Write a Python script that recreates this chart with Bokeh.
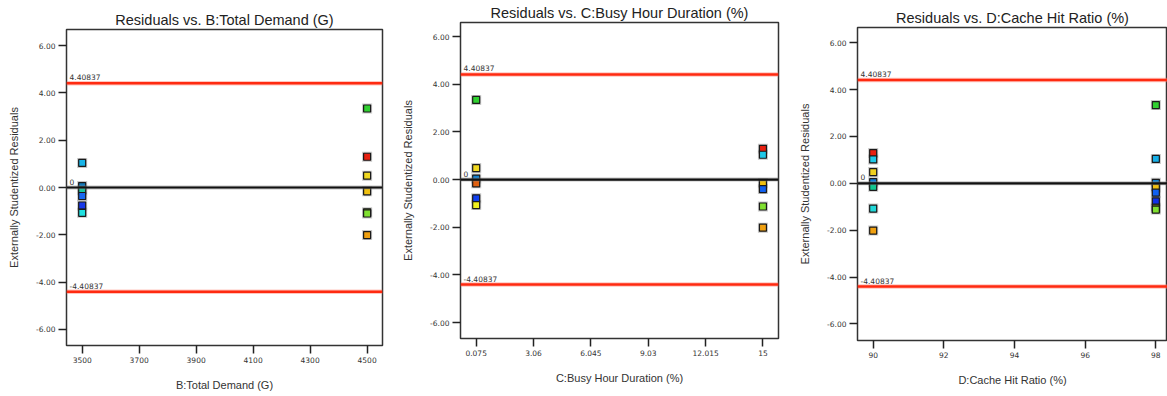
from bokeh.plotting import figure
from bokeh.layouts import row
from bokeh.models import Range1d, FixedTicker, NumeralTickFormatter, Label, Span, ColumnDataSource
from bokeh.embed import file_html
from bokeh.resources import INLINE

# ---------------- data ----------------
LIMIT = 4.40837
Y_TICKS = [-6, -4, -2, 0, 2, 4, 6]

# Panel B: Total Demand
b_levels = [3500, 3500, 3500, 3500, 3500, 3500, 4500, 4500, 4500, 4500, 4500, 4500, 4500]
b_resid = [1.04, 0.06, -0.12, -0.36, -0.76, -1.07, 3.34, 1.30, 0.50, -0.16, -1.05, -1.10, -2.01]
b_colors = ["#18b4e8", "#1478b8", "#18c8a0", "#1868f0", "#1838e8", "#20e0e0",
            "#30d030", "#e82010", "#f0d820", "#f0c010", "#5a8020", "#80e030", "#f0a010"]
b_ticks = [3500, 3700, 3900, 4100, 4300, 4500]
b_tick_labels = ["3500", "3700", "3900", "4100", "4300", "4500"]

# Panel C: Busy Hour Duration
c_levels = [0.075, 0.075, 0.075, 0.075, 0.075, 0.075, 15, 15, 15, 15, 15, 15]
c_resid = [3.34, 0.48, 0.04, -0.16, -0.79, -1.07, 1.29, 1.04, -0.16, -0.40, -1.13, -2.02]
c_colors = ["#30d030", "#f0d820", "#1080d0", "#e06010", "#1040f0", "#f0f020",
            "#e82010", "#20c8e8", "#f0c010", "#1060f0", "#80e030", "#f0a010"]
c_ticks = [0.075, 3.06, 6.045, 9.03, 12.015, 15]
c_tick_labels = ["0.075", "3.06", "6.045", "9.03", "12.015", "15"]

# Panel D: Cache Hit Ratio
d_levels = [90, 90, 90, 90, 90, 90, 90, 98, 98, 98, 98, 98, 98, 98, 98]
d_resid = [1.29, 1.02, 0.48, 0.05, -0.15, -1.08, -2.02,
           3.34, 1.04, 0.02, -0.18, -0.40, -0.77, -1.04, -1.12]
d_colors = ["#e82010", "#20c8e8", "#f0d020", "#1080d8", "#10c890", "#20d8d8", "#f0a010",
            "#30d030", "#18b0e8", "#1080d0", "#f0c010", "#1060f0", "#1030e8", "#708020", "#80e030"]
d_ticks = [90, 92, 94, 96, 98]
d_tick_labels = ["90", "92", "94", "96", "98"]


def panel(title, xlabel, xs, ys, colors, xticks, xlabels, xr, yr, width, height, top_margin, bl, br):
    p = figure(width=width, height=height, output_backend="svg", toolbar_location=None,
               x_range=Range1d(*xr), y_range=Range1d(*yr),
               min_border_left=bl, min_border_right=br, min_border_top=22, min_border_bottom=51,
               margin=(top_margin, 0, 0, 0))
    p.background_fill_color = "white"
    p.border_fill_color = "white"
    p.outline_line_color = "#333333"
    p.outline_line_width = 1.5
    p.xgrid.visible = False
    p.ygrid.visible = False

    p.title.text = title
    p.title.align = "center"
    p.title.text_font = "Liberation Sans"
    p.title.text_font_size = "14.5px"
    p.title.text_font_style = "normal"
    p.title.text_color = "#222222"
    p.title.standoff = 3

    for ax in (p.xaxis[0], p.yaxis[0]):
        ax.axis_line_color = None
        ax.major_tick_in = 0
        ax.major_tick_out = 8
        ax.major_tick_line_color = "#222222"
        ax.major_tick_line_width = 1.5
        ax.minor_tick_line_color = None
        ax.major_label_text_font = "DejaVu Sans"
        ax.major_label_text_font_size = "7.5px"
        ax.major_label_text_color = "#333333"
        ax.major_label_standoff = 3
        ax.axis_label_text_font = "Liberation Sans"
        ax.axis_label_text_font_size = "11px"
        ax.axis_label_text_font_style = "normal"
        ax.axis_label_text_color = "#333333"
        ax.axis_label_standoff = 13

    p.yaxis[0].ticker = FixedTicker(ticks=Y_TICKS)
    p.yaxis[0].formatter = NumeralTickFormatter(format="0.00")
    p.yaxis[0].axis_label = "Externally Studentized Residuals"
    p.xaxis[0].ticker = FixedTicker(ticks=xticks)
    p.xaxis[0].major_label_overrides = {float(t): l for t, l in zip(xticks, xlabels)}
    p.xaxis[0].axis_label = xlabel

    # limit lines
    for loc in (LIMIT, -LIMIT):
        p.add_layout(Span(location=loc, dimension="width", line_color="#ff8070",
                          line_width=4.5, line_alpha=0.45))
        p.add_layout(Span(location=loc, dimension="width", line_color="#ff2a10",
                          line_width=2.5))
    p.add_layout(Span(location=0, dimension="width", line_color="#888888",
                      line_width=4, line_alpha=0.5))
    p.add_layout(Span(location=0, dimension="width", line_color="#111111",
                      line_width=2.2))

    for txt, loc in (("4.40837", LIMIT), ("-4.40837", -LIMIT), ("0", 0)):
        p.add_layout(Label(x=xr[0], y=loc, x_offset=3, y_offset=3, text=txt,
                           text_font="DejaVu Sans", text_font_size="7.5px",
                           text_color="#333333", text_baseline="bottom"))

    src = ColumnDataSource(dict(x=xs, y=ys, c=colors))
    p.scatter("x", "y", source=src, marker="square", size=10, fill_color="#9a9a9a",
              fill_alpha=0.55, line_color=None)
    p.scatter("x", "y", source=src, marker="square", size=7, fill_color="c",
              line_color="#1a1a1a", line_width=1.2)
    return p


p1 = panel("Residuals vs. B:Total Demand (G)", "B:Total Demand (G)",
           b_levels, b_resid, b_colors, b_ticks, b_tick_labels,
           (3445, 4554), (-6.68, 6.68), 390, 389, 7, 66, 8)
p2 = panel("Residuals vs. C:Busy Hour Duration (%)", "C:Busy Hour Duration (%)",
           c_levels, c_resid, c_colors, c_ticks, c_tick_labels,
           (-0.741, 15.81), (-6.67, 6.59), 390, 389, 0, 70, 2)
p3 = panel("Residuals vs. D:Cache Hit Ratio (%)", "D:Cache Hit Ratio (%)",
           d_levels, d_resid, d_colors, d_ticks, d_tick_labels,
           (89.556, 98.33), (-6.71, 6.65), 387, 386, 5, 77, 0)

layout = row(p1, p2, p3, spacing=0)
open("out.html", "w").write(file_html(layout, INLINE))
